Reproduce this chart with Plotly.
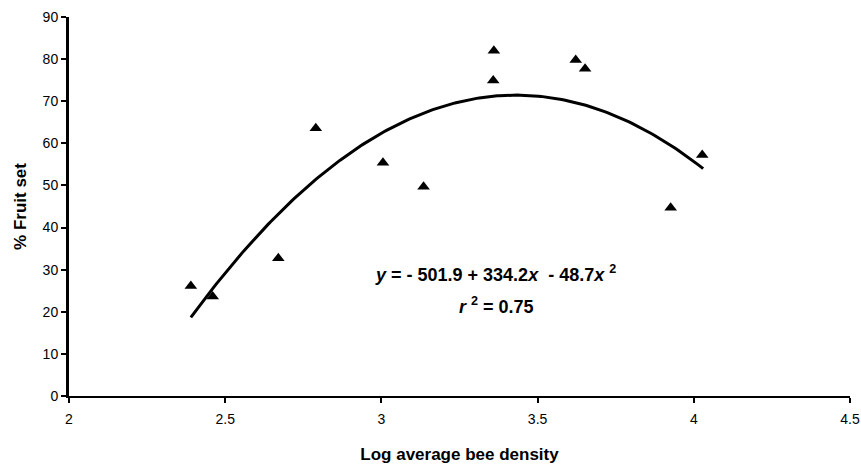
import numpy as np
import plotly.graph_objects as go

# Observed data
log_bee_density = [2.39, 2.46, 2.67, 2.79, 3.005, 3.135, 3.36, 3.358, 3.622, 3.652, 3.926, 4.027]
fruit_set_pct = [26.1, 23.6, 32.7, 63.6, 55.4, 49.7, 82.0, 74.9, 79.8, 77.7, 44.7, 57.2]

# Fitted quadratic (coefficients as printed on the chart)
fit_coefs = [-501.9, 334.2, -48.7]
fit_x_range = [2.39, 4.03]

x_ticks = [2, 2.5, 3, 3.5, 4, 4.5]
x_tick_labels = ["2", "2.5", "3", "3.5", "4", "4.5"]
y_ticks = [0, 10, 20, 30, 40, 50, 60, 70, 80, 90]

fx = np.linspace(fit_x_range[0], fit_x_range[1], 200)
fy = fit_coefs[0] + fit_coefs[1] * fx + fit_coefs[2] * fx ** 2

fig = go.Figure()
fig.add_trace(go.Scatter(x=fx, y=fy, mode="lines",
                         line=dict(color="black", width=3), showlegend=False,
                         hoverinfo="skip"))
fig.add_trace(go.Scatter(x=log_bee_density, y=fruit_set_pct, mode="markers",
                         marker=dict(symbol="triangle-up", size=11, color="black"),
                         showlegend=False))

font_family = "Liberation Sans, Arial, sans-serif"
fig.update_layout(
    width=861, height=464,
    margin=dict(l=69, r=11, t=17, b=68),
    paper_bgcolor="white", plot_bgcolor="white",
    font=dict(family=font_family, color="black", size=14),
    xaxis=dict(range=[2, 4.5], tickvals=x_ticks, ticktext=x_tick_labels,
               showgrid=False, zeroline=False, showline=True, linecolor="black",
               linewidth=2, ticks="outside", ticklen=5, tickwidth=2, tickcolor="black",
               tickfont=dict(size=14), automargin=False, ticklabelstandoff=4,
               title=dict(text="<b>Log average bee density</b>", font=dict(size=17), standoff=24)),
    yaxis=dict(range=[0, 90], tickvals=y_ticks, showgrid=False, zeroline=False,
               showline=True, linecolor="black", linewidth=3, ticks="outside",
               ticklen=5, tickwidth=2, tickcolor="black", tickfont=dict(size=14),
               automargin=False,
               title=dict(text="<b>% Fruit set</b>", font=dict(size=17), standoff=12)),
    annotations=[
        dict(x=3.364, y=29.2, xref="x", yref="y", showarrow=False,
             text="<b><i>y</i> = - 501.9 + 334.2<i>x</i>&nbsp; - 48.7<i>x</i> <sup>2</sup></b>",
             font=dict(size=18, family=font_family)),
        dict(x=3.37, y=21.6, xref="x", yref="y", showarrow=False,
             text="<b><i>r</i> <sup>2</sup> = 0.75</b>",
             font=dict(size=18, family=font_family)),
    ],
)

fig.write_html("out.html", post_script="document.body.style.margin='0';",
               config={"displayModeBar": False})
